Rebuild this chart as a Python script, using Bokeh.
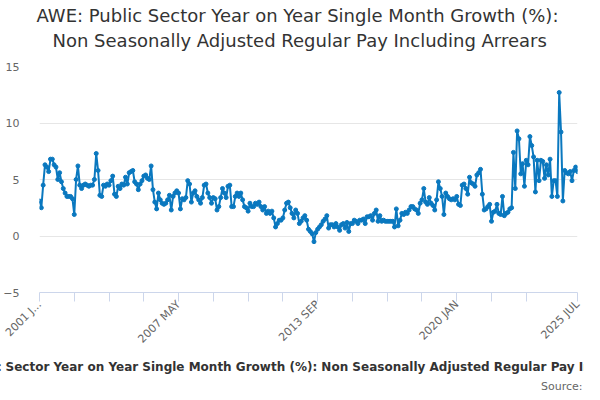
import math
from bokeh.plotting import figure
from bokeh.models import Range1d, FixedTicker, Title
from bokeh.embed import file_html
from bokeh.resources import INLINE

# ---- data -------------------------------------------------------------
month_names = ["JAN", "FEB", "MAR", "APR", "MAY", "JUN",
               "JUL", "AUG", "SEP", "OCT", "NOV", "DEC"]
start_year = 2001

growth = [
    3.1, 2.5, 4.5, 6.3, 6.1, 5.7, 6.8, 6.8, 6.3, 6.1,
    5.0, 5.6, 4.8, 4.2, 3.8, 3.5, 3.5, 3.5, 3.3, 1.9,
    5.0, 6.2, 4.5, 4.2, 4.5, 4.6, 4.5, 4.4, 4.5, 4.5,
    5.0, 7.3, 5.8, 3.6, 3.5, 4.5, 4.4, 4.6, 4.5, 4.9,
    5.3, 3.7, 3.5, 4.4, 4.2, 4.6, 4.5, 5.2, 4.6, 5.6,
    5.7, 5.8, 4.8, 4.6, 4.1, 4.6, 4.9, 5.3, 5.4, 5.1,
    5.0, 6.2, 4.1, 3.0, 2.4, 3.8, 3.2, 2.9, 2.8, 2.9,
    3.2, 3.6, 2.3, 3.5, 3.8, 4.0,
    3.8, 2.4, 3.3, 3.2, 3.4, 4.9, 4.6, 3.0, 3.8, 4.0,
    3.5, 3.2, 2.9, 3.4, 4.5, 4.6, 3.8, 3.4, 2.9, 3.4,
    3.3, 2.3, 2.6, 3.4, 4.2, 3.8, 3.4, 4.4, 4.5, 2.6,
    2.6, 3.5, 3.8, 3.5, 3.8, 3.2, 2.6, 2.5, 2.2, 2.9,
    2.6, 2.6, 2.9, 2.8, 3.0, 2.6, 2.3, 2.6, 2.0, 2.2,
    2.0, 2.2, 1.6, 0.8, 1.1, 1.4, 1.4, 1.6, 2.3, 2.9,
    3.0, 2.5, 2.0, 1.6, 2.3, 2.0, 1.1, 1.3, 1.6, 1.8,
    1.4, 0.6, 0.4, 0.2, -0.5, 0.3,
    0.6, 0.8, 1.0, 1.3, 1.5, 1.8, 0.7, 1.0, 1.0, 0.8,
    1.1, 0.8, 0.5, 1.0, 1.1, 0.7, 1.2, 0.4, 1.1, 1.1,
    1.4, 1.3, 1.1, 1.4, 1.4, 1.5, 1.1, 1.7, 1.7, 1.8,
    1.4, 2.0, 2.3, 1.3, 1.8, 1.3, 1.4, 1.3, 1.3, 1.3,
    1.3, 1.3, 0.8, 2.4, 0.9, 1.4, 2.0, 1.9, 2.1, 2.0,
    2.3, 2.6, 2.6, 2.4, 2.3, 2.0, 2.9, 3.2, 4.2, 3.0,
    2.8, 3.4, 2.9, 2.7, 2.3, 3.2, 4.8, 4.2, 3.5, 1.9,
    3.8, 3.5, 3.3, 3.2, 3.3,
    3.2, 3.5, 2.8, 2.7, 4.5, 4.6, 4.2, 3.7, 5.2, 4.7,
    4.6, 4.4, 5.4, 5.6, 5.9, 3.7, 2.3, 2.4, 2.6, 2.8,
    1.3, 2.1, 2.2, 2.8, 2.0, 1.9, 3.5, 1.8, 2.0, 2.1,
    2.4, 2.5,
    7.4, 4.2, 9.3, 8.6, 5.5, 6.4, 4.4, 6.7, 6.3,
    8.8, 8.0, 7.0, 3.9, 6.7, 4.9, 6.7, 6.6, 5.1, 6.3, 5.4, 6.8,
    3.5, 4.9, 4.9, 3.5, 12.7,
    9.2, 3.1, 5.8, 5.6, 5.5, 5.7, 4.9, 5.8, 6.1, 5.7,
]

months = []
for i in range(len(growth)):
    months.append(f"{start_year + i // 12} {month_names[i % 12]}")

x_tick_index = [0, 19, 38, 57, 76, 95, 114, 133, 152, 171, 190, 209, 228, 247, 266, 294]
x_labelled = {0: "2001 J...", 76: months[76], 152: months[152], 228: months[228], 294: months[-1]}
y_ticks = [-5, 0, 5, 10, 15]

title_line1 = "AWE: Public Sector Year on Year Single Month Growth (%):"
title_line2 = "Non Seasonally Adjusted Regular Pay Including Arrears"
x_title = ("AWE: Public Sector Year on Year Single Month Growth (%): "
           "Non Seasonally Adjusted Regular Pay Including Arrears")
source_text = "Source:"

# ---- figure -----------------------------------------------------------
FONT = "DejaVu Sans"
LINE_C = "#0a78bf"

p = figure(width=584, height=392, output_backend="svg", toolbar_location=None,
           x_range=Range1d(0, len(growth) - 1), y_range=Range1d(-5, 15),
           min_border_left=31, min_border_right=7, min_border_top=66,
           min_border_bottom=99)
p.outline_line_color = None
p.background_fill_color = "white"
p.border_fill_color = "white"

xs = list(range(len(growth)))
p.line(xs, growth, line_color=LINE_C, line_width=2)
p.scatter(xs, growth, size=4, fill_color=LINE_C, line_color=LINE_C)

# x axis
xa = p.xaxis[0]
xa.ticker = FixedTicker(ticks=x_tick_index, minor_ticks=[])
xa.major_label_overrides = {t: x_labelled.get(t, "") for t in x_tick_index}
xa.major_label_orientation = math.pi / 4
xa.axis_line_color = "#ccd6eb"
xa.major_tick_line_color = "#ccd6eb"
xa.major_tick_out = 9
xa.major_tick_in = 0
xa.minor_tick_line_color = None
xa.major_label_text_color = "#666666"
xa.major_label_text_font = FONT
xa.major_label_text_font_size = "11px"
xa.major_label_standoff = 1
xa.axis_label = x_title
xa.axis_label_text_font = FONT
xa.axis_label_text_font_size = "12px"
xa.axis_label_text_font_style = "bold"
xa.axis_label_text_color = "#333333"
xa.axis_label_standoff = 7

# y axis
ya = p.yaxis[0]
ya.ticker = FixedTicker(ticks=y_ticks, minor_ticks=[])
ya.axis_line_color = None
ya.major_tick_line_color = None
ya.minor_tick_line_color = None
ya.major_label_text_color = "#666666"
ya.major_label_text_font = FONT
ya.major_label_text_font_size = "11px"
ya.major_label_standoff = 14

p.xgrid.visible = False
p.ygrid.grid_line_color = "#e6e6e6"
p.ygrid.grid_line_width = 1

# titles (closest to the plot added first)
p.add_layout(Title(text=" ", standoff=0, text_font=FONT,
                   text_font_size="11px"), "above")
p.add_layout(Title(text=title_line2, align="left", offset=13, standoff=2,
                   text_font=FONT, text_font_size="18px",
                   text_font_style="normal", text_color="#333333"), "above")
p.add_layout(Title(text=title_line1, align="left", offset=-3, standoff=2,
                   text_font=FONT, text_font_size="18px",
                   text_font_style="normal", text_color="#333333"), "above")
p.add_layout(Title(text=source_text, align="right", offset=-5, standoff=0,
                   text_font=FONT, text_font_size="11px",
                   text_font_style="normal", text_color="#666666"), "below")

open("out.html", "w").write(file_html(p, INLINE))
